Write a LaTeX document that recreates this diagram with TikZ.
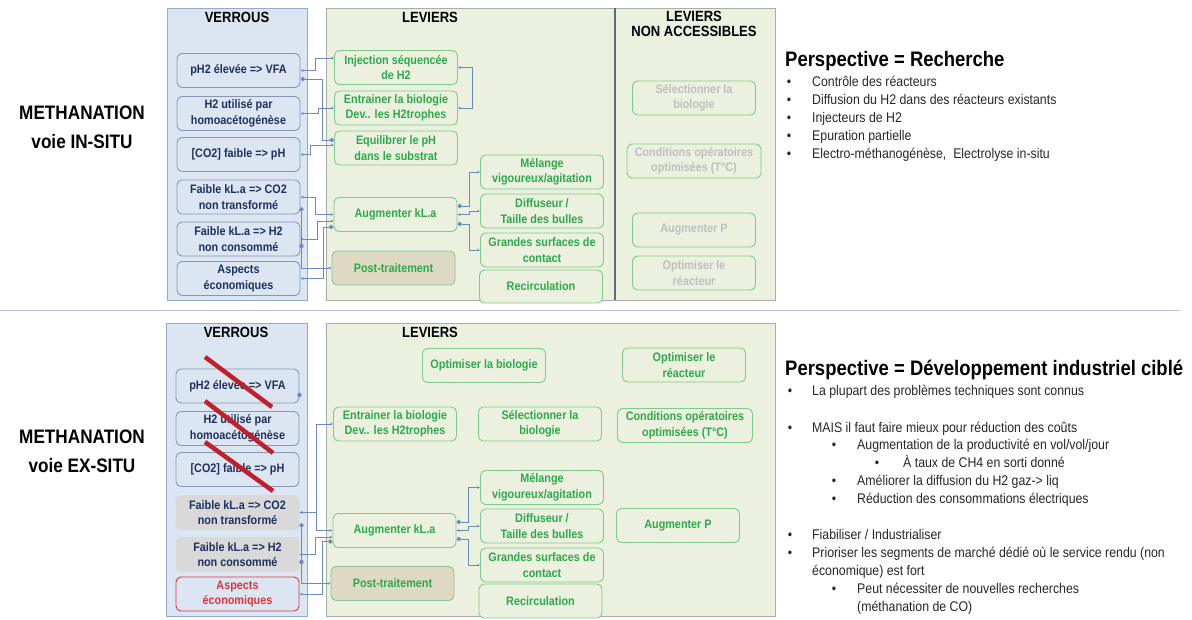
\documentclass[tikz,border=0pt]{standalone}
\usepackage{fontspec}
\setmainfont{Liberation Sans}
\newfontfamily\nf[FakeStretch=0.88]{Liberation Sans}
\usetikzlibrary{arrows.meta,calc}

\definecolor{verrfill}{HTML}{DCE6F2}
\definecolor{verrline}{HTML}{8797B2}
\definecolor{verrtext}{HTML}{1F2F5F}
\definecolor{panelv}{HTML}{95A9C9}
\definecolor{levfill}{HTML}{EBF1DE}
\definecolor{panell}{HTML}{A6AEA6}
\definecolor{levline}{HTML}{7CCB8C}
\definecolor{levtext}{HTML}{2EA84C}
\definecolor{tanfill}{HTML}{DDD9C3}
\definecolor{tanline}{HTML}{93BE98}
\definecolor{greytext}{HTML}{BFBFBF}
\definecolor{greyfill}{HTML}{D9D9D9}
\definecolor{redtext}{HTML}{D7373D}
\definecolor{strike}{HTML}{C0202A}
\definecolor{lnkc}{HTML}{6A8BBF}
\definecolor{sepc}{HTML}{B4C7E2}
\definecolor{barc}{HTML}{5E6B7C}
\definecolor{listc}{HTML}{262626}

\newcommand\boxfont{\nf\bfseries\fontsize{12.3}{15.5}\selectfont}
\newcommand\headfont{\nf\bfseries\fontsize{14.8}{14.5}\selectfont}
\newcommand\listfont{\nf\fontsize{14}{16}\selectfont}

\begin{document}
\begin{tikzpicture}
    [x=1pt,y=-1pt,
     verrou/.style={draw=verrline,fill=verrfill,rounded corners=5pt,line width=0.9pt,
       minimum width=123,minimum height=34,inner sep=1pt,align=center,text=verrtext,font=\boxfont},
     levier/.style={verrou,draw=levline,fill=levfill,text=levtext},
     postt/.style={levier,fill=tanfill,draw=tanline},
     horsacc/.style={levier,text=greytext},
     gverrou/.style={verrou,fill=greyfill,draw=greyfill},
     rverrou/.style={verrou,draw=redtext,text=redtext},
     head/.style={inner sep=0,align=center,font=\headfont},
     ltitle/.style={inner sep=0,align=center,font=\nf\bfseries\fontsize{19.5}{29}\selectfont},
     ptitle/.style={anchor=base west,inner sep=0,font=\nf\bfseries\fontsize{21}{24}\selectfont},
     item/.style={anchor=base west,inner sep=0,text=listc,font=\listfont},
     bul/.style={anchor=base,inner sep=0,text=listc,font=\listfont},
     >={Stealth[length=3pt,width=2.6pt]},
     lnk/.style={draw=lnkc,line width=0.6pt},
     dotend/.style={fill=lnkc}]
    \useasboundingbox (0,0) rectangle (1192,619);

    % panels
    \draw[fill=verrfill,draw=panelv,line width=0.8pt] (167,8) rectangle (307,300);
    \draw[fill=levfill,draw=panell,line width=0.8pt] (326,8) rectangle (775,300);
    \draw[barc,line width=2.5pt] (615,8) -- (615,300);
    \draw[fill=verrfill,draw=panelv,line width=0.8pt] (166,323) rectangle (307,616);
    \draw[fill=levfill,draw=panell,line width=0.8pt] (326,323) rectangle (775,616);
    \draw[sepc,line width=0.9pt] (0,310) -- (1180,310);

    % titles left
    \node[ltitle] (ttop) at (82,127) {METHANATION\\voie IN-SITU};
    \node[ltitle] (tbot) at (82,451) {METHANATION\\voie EX-SITU};

    \node[head] (hv1) at (237,17) {VERROUS};
    \node[head] (hl1) at (430,17) {LEVIERS};
    \node[head] (hn1) at (694,24) {LEVIERS\\NON ACCESSIBLES};
    \node[head] (hv2) at (236,332) {VERROUS};
    \node[head] (hl2) at (430,332) {LEVIERS};

    % in-situ : verrous
    \node[verrou] (v1) at (238.5,70.5) {pH2 élevée => VFA};
    \node[verrou] (v2) at (238.5,113.5) {H2 utilisé par\\homoacétogénèse};
    \node[verrou] (v3) at (238.5,154.5) {[CO2] faible => pH};
    \node[verrou] (v4) at (238.5,197) {Faible kL.a => CO2\\non transformé};
    \node[verrou] (v5) at (238.5,239) {Faible kL.a => H2\\non consommé};
    \node[verrou] (v6) at (238.5,278.5) {Aspects\\économiques};

    % in-situ : leviers
    \node[levier] (l1) at (396,67.5) {Injection séquencée\\de H2};
    \node[levier] (l2) at (396,108) {Entrainer la biologie\\Dev.. les H2trophes};
    \node[levier] (l3) at (396,148) {Equilibrer le pH\\dans le substrat};
    \node[levier] (l4) at (395.5,214.5) {Augmenter kL.a};
    \node[postt] (l5) at (393.5,268) {Post-traitement};
    \node[levier] (l6) at (542,172) {Mélange\\vigoureux/agitation};
    \node[levier] (l7) at (542,211) {Diffuseur /\\Taille des bulles};
    \node[levier] (l8) at (542,250) {Grandes surfaces de\\contact};
    \node[levier,minimum height=33] (l9) at (541,286.5) {Recirculation};

    \node[horsacc] (n1) at (694,98) {Sélectionner la\\biologie};
    \node[horsacc,minimum width=134] (n2) at (694,161) {Conditions opératoires\\optimisées (T°C)};
    \node[horsacc] (n3) at (694,230) {Augmenter P};
    \node[horsacc] (n4) at (694,273) {Optimiser le\\réacteur};

    % in-situ : liens
    \draw[lnk,<->] (v1.east) -- ++(15,0) |- ($(l1.west)+(0,-9.5)$);
    \draw[lnk,{Circle[length=4.5pt]}-{Circle[length=4.5pt]}] ($(v1.east)+(0,8.5)$) -- ++(22,0) |- ($(l3.west)+(0,-8)$);
    \draw[lnk,<->] (v2.east) -- ++(18,0) |- (l2.west);
    \draw[lnk,<->] (v3.east) -- ++(10,0) |- ($(l3.west)+(0,-3)$);
    \draw[lnk,<->] (v4.east) -- ++(15,0) |- (l4.west);
    \draw[lnk,<->] (v5.east) -- ++(17,0) |- ($(l4.west)+(0,6.5)$);
    \draw[lnk,<-{Circle[length=4.5pt]}] (v6.east) -- ++(23,0) |- ($(l4.west)+(0,12.5)$);
    \draw[lnk,{Circle[length=4.5pt]}->] ($(v4.east)+(1,10)$) |- (l5.west);
    \fill[dotend] ($(v5.east)+(1,7)$) circle[radius=2.2pt];
    \draw[lnk,<->] (l1.east) -- ++(14,0) |- (l2.east);
    \draw[lnk,{Circle[length=4.5pt]}->] ($(l4.east)+(0,-8.5)$) -- ++(12,0) |- (l6.west);
    \draw[lnk,<->] (l4.east) -- ++(12,0) |- (l7.west);
    \draw[lnk,{Circle[length=4.5pt]}->] ($(l4.east)+(0,9.5)$) -- ++(12,0) |- (l8.west);

    \node[ptitle] (p1) at (785,66.5) {Perspective = Recherche};
    \node[bul] (b11) at (789,86) {•};
    \node[item] (i11) at (812,86) {Contrôle des réacteurs};
    \node[bul] (b12) at (789,104) {•};
    \node[item] (i12) at (812,104) {Diffusion du H2 dans des réacteurs existants};
    \node[bul] (b13) at (789,122) {•};
    \node[item] (i13) at (812,122) {Injecteurs de H2};
    \node[bul] (b14) at (789,140) {•};
    \node[item] (i14) at (812,140) {Epuration partielle};
    \node[bul] (b15) at (789,158) {•};
    \node[item] (i15) at (812,158) {Electro-méthanogénèse,\ \ Electrolyse in-situ};

    % ex-situ : verrous
    \node[verrou] (w1) at (237.5,386) {pH2 élevée => VFA};
    \node[verrou] (w2) at (237.5,428.5) {H2 utilisé par\\homoacétogénèse};
    \node[verrou] (w3) at (237.5,469.5) {[CO2] faible => pH};
    \node[gverrou] (w4) at (237.5,512.5) {Faible kL.a => CO2\\non transformé};
    \node[gverrou] (w5) at (237.5,554.5) {Faible kL.a => H2\\non consommé};
    \node[rverrou] (w6) at (237.5,594) {Aspects\\économiques};
    \draw[strike,line width=4.5pt] (205,357) -- (272,407);
    \draw[strike,line width=4.5pt] (205,401) -- (273,453);
    \draw[strike,line width=4.5pt] (205,442) -- (273,491);

    % ex-situ : leviers
    \node[levier] (m1) at (484,365.5) {Optimiser la biologie};
    \node[levier] (m2) at (395,424) {Entrainer la biologie\\Dev.. les H2trophes};
    \node[levier] (m3) at (540,424) {Sélectionner la\\biologie};
    \node[levier] (m4) at (542,487.5) {Mélange\\vigoureux/agitation};
    \node[levier] (m5) at (394.5,530.5) {Augmenter kL.a};
    \node[levier] (m6) at (542,526) {Diffuseur /\\Taille des bulles};
    \node[levier] (m7) at (542,565) {Grandes surfaces de\\contact};
    \node[postt] (m8) at (392.5,583.5) {Post-traitement};
    \node[levier] (m9) at (540.5,601) {Recirculation};
    \node[levier] (m10) at (684,365) {Optimiser le\\réacteur};
    \node[levier,minimum width=135] (m11) at (685,425.5) {Conditions opératoires\\optimisées (T°C)};
    \node[levier] (m12) at (678,525.5) {Augmenter P};

    % ex-situ : liens
    \fill[dotend] ($(w1.east)+(0,9)$) circle[radius=2.2pt];
    \draw[lnk,<->] (w4.east) -- ++(17,0) |- (m2.west);
    \draw[lnk,<->] (w4.east) -- ++(17,0) |- (m5.west);
    \draw[lnk,<->] (w5.east) -- ++(16,0) |- ($(m5.west)+(0,6.5)$);
    \draw[lnk,<-{Circle[length=4.5pt]}] (w6.east) -- ++(23,0) |- ($(m5.west)+(0,11)$);
    \draw[lnk,{Circle[length=4.5pt]}->] ($(w4.east)+(2,10.5)$) |- (m8.west);
    \fill[dotend] ($(w5.east)+(2,7.5)$) circle[radius=2.2pt];
    \draw[lnk,{Circle[length=4.5pt]}->] ($(m5.east)+(0,-8.5)$) -- ++(12,0) |- (m4.west);
    \draw[lnk,<->] (m5.east) -- ++(12,0) |- (m6.west);
    \draw[lnk,{Circle[length=4.5pt]}->] ($(m5.east)+(0,8.5)$) -- ++(12,0) |- (m7.west);

    \node[ptitle] (p2) at (785,375.5) {Perspective = Développement industriel ciblé};
    \node[bul] (b21) at (790,395) {•};
    \node[item] (i21) at (812,395) {La plupart des problèmes techniques sont connus};
    \node[bul] (b22) at (790,432) {•};
    \node[item] (i22) at (812,432) {MAIS il faut faire mieux pour réduction des coûts};
    \node[bul] (b23) at (834,449) {•};
    \node[item] (i23) at (857,449) {Augmentation de la productivité en vol/vol/jour};
    \node[bul] (b24) at (877,467) {•};
    \node[item] (i24) at (903,467) {À taux de CH4 en sorti donné};
    \node[bul] (b25) at (834,485) {•};
    \node[item] (i25) at (857,485) {Améliorer la diffusion du H2 gaz-> liq};
    \node[bul] (b26) at (834,503) {•};
    \node[item] (i26) at (857,503) {Réduction des consommations électriques};
    \node[bul] (b27) at (790,539) {•};
    \node[item] (i27) at (812,539) {Fiabiliser / Industrialiser};
    \node[bul] (b28) at (790,557) {•};
    \node[item] (i28) at (812,557) {Prioriser les segments de marché dédié où le service rendu (non};
    \node[item] (i29) at (812,575) {économique) est fort};
    \node[bul] (b30) at (834,593) {•};
    \node[item] (i30) at (857,593) {Peut nécessiter de nouvelles recherches};
    \node[item] (i31) at (857,611) {(méthanation de CO)};
\end{tikzpicture}
\end{document}
